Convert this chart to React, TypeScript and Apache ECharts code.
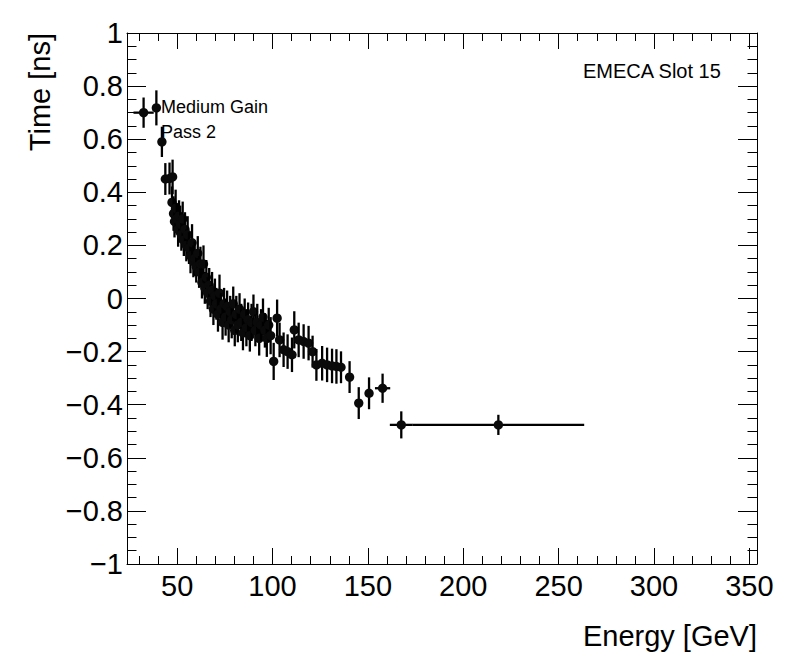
import { useEffect, useRef } from "react";
import * as echarts from "echarts";

const FONT = "'Liberation Sans', Arial, Helvetica, sans-serif";
const INK = "#000000";

// energy [GeV], time [ns], and their half errors
const ENERGY = [
  32.4, 39.1, 42.0, 43.8, 46.0, 47.6, 47.3, 48.1, 48.6, 49.2,
  49.8, 50.5, 51.0, 51.6, 52.2, 52.9, 53.5, 54.1, 54.8, 55.5,
  56.2, 57.0, 57.8, 58.5, 59.2, 60.0, 60.8, 61.5, 62.2, 63.0,
  63.8, 64.5, 65.3, 66.0, 66.8, 67.5, 68.3, 69.0, 69.8, 70.6,
  71.4, 72.2, 73.0, 73.8, 74.6, 75.4, 76.2, 77.0, 77.8, 78.6,
  79.4, 80.2, 81.0, 81.8, 82.7, 83.6, 84.5, 85.4, 86.3, 87.2,
  88.1, 89.0, 90.0, 91.0, 92.0, 93.0, 94.0, 95.0, 96.0, 97.0,
  98.0, 99.0, 100.6, 102.4, 103.7, 105.8, 107.9, 110.2, 111.4, 113.7,
  116.3, 118.9, 121.0, 123.0, 126.0, 128.6, 131.2, 133.5, 135.9, 140.4,
  145.2, 150.6, 157.7, 167.5, 218.4,
];
const TIME = [
  0.70, 0.718, 0.59, 0.45, 0.452, 0.458, 0.362, 0.32, 0.29, 0.34,
  0.30, 0.26, 0.31, 0.28, 0.24, 0.30, 0.22, 0.26, 0.20, 0.24,
  0.19, 0.16, 0.21, 0.14, 0.15, 0.12, 0.17, 0.10, 0.13, 0.06,
  0.13, 0.04, 0.08, 0.02, 0.05, -0.01, 0.03, -0.04, 0.01, -0.02,
  -0.06, 0.02, -0.04, -0.09, -0.02, -0.07, -0.03, -0.10, -0.05, -0.08,
  -0.02, -0.12, -0.06, -0.10, -0.04, -0.09, -0.13, -0.06, -0.11, -0.08,
  -0.14, -0.09, -0.05, -0.12, -0.09, -0.15, -0.10, -0.07, -0.12, -0.15,
  -0.10, -0.14, -0.237, -0.074, -0.156, -0.193, -0.20, -0.212, -0.118, -0.156,
  -0.162, -0.168, -0.20, -0.25, -0.244, -0.25, -0.254, -0.256, -0.259, -0.296,
  -0.394, -0.357, -0.338, -0.476, -0.476,
];
const ENERGY_ERR = [
  5.3, 1.5, 1.0, 1.0, 1.0, 1.0, 0.8, 0.8, 0.8, 0.8,
  0.8, 0.8, 0.8, 0.8, 0.8, 0.8, 0.8, 0.8, 0.8, 0.8,
  0.8, 0.8, 0.8, 0.8, 0.8, 0.8, 0.8, 0.8, 0.8, 0.8,
  0.8, 0.8, 0.8, 0.8, 0.8, 0.8, 0.8, 0.8, 0.8, 0.8,
  0.8, 0.8, 0.8, 0.8, 0.8, 0.8, 0.8, 0.8, 0.8, 0.8,
  0.8, 0.8, 0.8, 0.8, 0.8, 0.8, 0.8, 0.8, 0.8, 0.8,
  0.8, 0.8, 0.8, 0.8, 0.8, 0.8, 0.8, 0.8, 0.8, 0.8,
  0.8, 0.8, 0.8, 0.8, 0.8, 0.8, 0.8, 0.8, 0.8, 0.8,
  0.8, 0.8, 0.8, 1.0, 1.0, 1.0, 1.0, 1.0, 1.0, 1.5,
  1.5, 2.0, 4.0, 6.0, 45.0,
];
const TIME_ERR = [
  0.057, 0.066, 0.057, 0.06, 0.06, 0.065, 0.06, 0.065, 0.06, 0.07,
  0.06, 0.065, 0.06, 0.07, 0.06, 0.065, 0.06, 0.065, 0.06, 0.07,
  0.06, 0.065, 0.07, 0.06, 0.065, 0.06, 0.065, 0.06, 0.065, 0.06,
  0.07, 0.06, 0.065, 0.06, 0.065, 0.06, 0.07, 0.06, 0.065, 0.06,
  0.065, 0.07, 0.06, 0.065, 0.06, 0.07, 0.06, 0.065, 0.06, 0.07,
  0.065, 0.06, 0.07, 0.065, 0.06, 0.07, 0.065, 0.06, 0.07, 0.065,
  0.06, 0.07, 0.065, 0.06, 0.07, 0.065, 0.06, 0.07, 0.065, 0.07,
  0.065, 0.07, 0.07, 0.07, 0.065, 0.065, 0.065, 0.065, 0.07, 0.065,
  0.065, 0.065, 0.06, 0.06, 0.065, 0.065, 0.065, 0.065, 0.06, 0.06,
  0.06, 0.06, 0.055, 0.051, 0.038,
];

const X_MAJOR = [50, 100, 150, 200, 250, 300, 350];
const X_MINOR = [
  30, 40, 60, 70, 80, 90, 110, 120, 130, 140, 160, 170, 180, 190,
  210, 220, 230, 240, 260, 270, 280, 290, 310, 320, 330, 340,
];
const X_MIN = 23.7;
const X_MAX = 354;

/** ROOT 风格标签：负号用 U+2212 */
function fmtTick(v: number): string {
  const r = Math.round(v * 10) / 10;
  if (r === 0) return "0";
  return String(r).replace("-", "\u2212");
}

export default function App() {
  const elRef = useRef<HTMLDivElement>(null);

  useEffect(() => {
    document.body.style.margin = "0";
    const el = elRef.current;
    if (!el) return;
    const chart = echarts.init(el, undefined, { renderer: "svg" });

    const points = ENERGY.map((e, i) => [e, TIME[i], ENERGY_ERR[i], TIME_ERR[i]]);

    const lineStyle = { color: INK, width: 1 };
    // 一根主刻度轴 + 一根次刻度轴，上下各一对（ROOT 四边带刻度的框）
    const xAxis = (["bottom", "top"] as const).flatMap((pos) => [
      {
        type: "value" as const,
        position: pos,
        min: X_MIN,
        max: X_MAX,
        axisLine: { show: true, onZero: false, lineStyle },
        axisTick: { show: true, inside: true, length: 16, customValues: X_MAJOR, lineStyle },
        axisLabel: {
          show: pos === "bottom",
          customValues: X_MAJOR,
          color: INK,
          fontSize: 29,
          fontFamily: FONT,
          margin: 7,
        },
        splitLine: { show: false },
      },
      {
        type: "value" as const,
        position: pos,
        min: X_MIN,
        max: X_MAX,
        axisLine: { show: false, onZero: false },
        axisTick: { show: true, inside: true, length: 8, customValues: X_MINOR, lineStyle },
        axisLabel: { show: false },
        splitLine: { show: false },
      },
    ]);

    const yAxis = (["left", "right"] as const).map((pos) => ({
      type: "value" as const,
      position: pos,
      min: -1,
      max: 1,
      interval: 0.2,
      axisLine: { show: true, onZero: false, lineStyle },
      axisTick: { show: true, inside: true, length: 19, lineStyle },
      minorTick: { show: true, splitNumber: 4, length: 9.5, lineStyle },
      axisLabel: {
        show: pos === "left",
        color: INK,
        fontSize: 29,
        fontFamily: FONT,
        margin: 4,
        formatter: fmtTick,
      },
      splitLine: { show: false },
      minorSplitLine: { show: false },
    }));

    chart.setOption({
      animation: false,
      backgroundColor: "#ffffff",
      grid: { left: 127, right: 39, top: 33, bottom: 108 },
      xAxis,
      yAxis,
      series: [
        {
          type: "custom",
          xAxisIndex: 0,
          yAxisIndex: 0,
          data: points,
          encode: { x: 0, y: 1 },
          clip: true,
          renderItem: (_params: unknown, api: any) => {
            const x = api.value(0);
            const y = api.value(1);
            const ex = api.value(2);
            const ey = api.value(3);
            const c = api.coord([x, y]);
            const l = api.coord([x - ex, y]);
            const r = api.coord([x + ex, y]);
            const t = api.coord([x, y + ey]);
            const b = api.coord([x, y - ey]);
            const st = { stroke: INK, lineWidth: 2.3 };
            return {
              type: "group",
              children: [
                { type: "line", shape: { x1: l[0], y1: c[1], x2: r[0], y2: c[1] }, style: st },
                { type: "line", shape: { x1: c[0], y1: t[1], x2: c[0], y2: b[1] }, style: st },
                { type: "circle", shape: { cx: c[0], cy: c[1], r: 4.7 }, style: { fill: "#0a0a0a" } },
              ],
            };
          },
        },
      ],
      graphic: [
        {
          type: "text",
          left: 583,
          top: 61,
          style: { text: "EMECA Slot 15", fill: INK, font: `20px ${FONT}` },
        },
        {
          type: "text",
          left: 161,
          top: 98,
          style: { text: "Medium Gain", fill: INK, font: `18px ${FONT}` },
        },
        {
          type: "text",
          left: 161,
          top: 123,
          style: { text: "Pass 2", fill: INK, font: `18px ${FONT}` },
        },
        {
          type: "text",
          x: 757,
          y: 636,
          style: {
            text: "Energy [GeV]",
            fill: INK,
            font: `29px ${FONT}`,
            align: "right",
            verticalAlign: "middle",
          },
        },
        {
          type: "text",
          x: 40,
          y: 33,
          rotation: Math.PI / 2,
          style: {
            text: "Time [ns]",
            fill: INK,
            font: `29px ${FONT}`,
            align: "right",
            verticalAlign: "middle",
          },
        },
      ],
    });

    return () => {
      chart.dispose();
    };
  }, []);

  return <div ref={elRef} style={{ width: 796, height: 672 }} />;
}
